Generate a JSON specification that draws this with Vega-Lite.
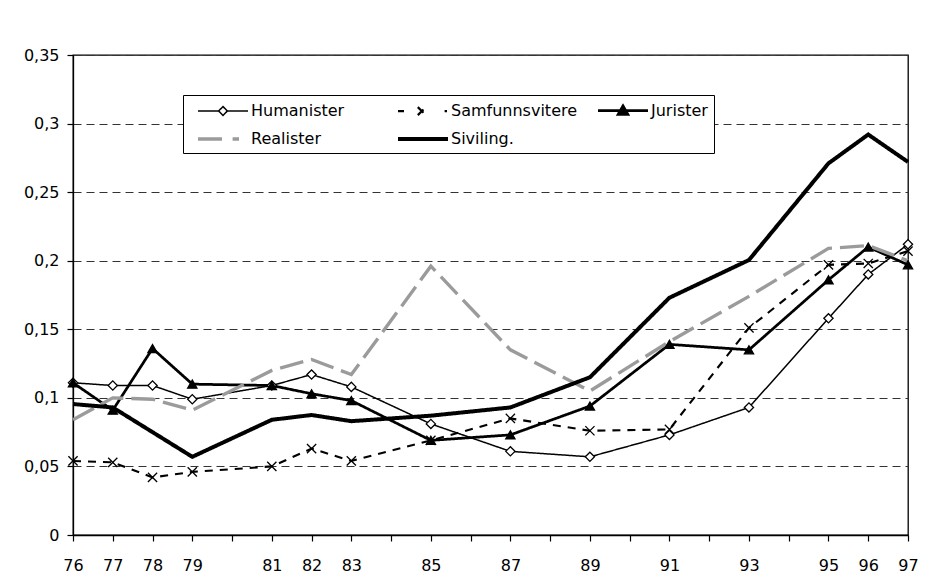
{
  "$schema": "https://vega.github.io/schema/vega-lite/v6.json",
  "width": 835,
  "height": 480,
  "autosize": {"type": "none"},
  "padding": {"left": 73, "top": 55, "right": 25, "bottom": 49},
  "background": "white",
  "data": {
    "values": [
      {"year": 76, "series": "Humanister", "value": 0.111},
      {"year": 77, "series": "Humanister", "value": 0.109},
      {"year": 78, "series": "Humanister", "value": 0.109},
      {"year": 79, "series": "Humanister", "value": 0.099},
      {"year": 81, "series": "Humanister", "value": 0.109},
      {"year": 82, "series": "Humanister", "value": 0.117},
      {"year": 83, "series": "Humanister", "value": 0.108},
      {"year": 85, "series": "Humanister", "value": 0.081},
      {"year": 87, "series": "Humanister", "value": 0.061},
      {"year": 89, "series": "Humanister", "value": 0.057},
      {"year": 91, "series": "Humanister", "value": 0.073},
      {"year": 93, "series": "Humanister", "value": 0.093},
      {"year": 95, "series": "Humanister", "value": 0.158},
      {"year": 96, "series": "Humanister", "value": 0.190},
      {"year": 97, "series": "Humanister", "value": 0.212},
      {"year": 76, "series": "Samfunnsvitere", "value": 0.054},
      {"year": 77, "series": "Samfunnsvitere", "value": 0.053},
      {"year": 78, "series": "Samfunnsvitere", "value": 0.042},
      {"year": 79, "series": "Samfunnsvitere", "value": 0.046},
      {"year": 81, "series": "Samfunnsvitere", "value": 0.050},
      {"year": 82, "series": "Samfunnsvitere", "value": 0.063},
      {"year": 83, "series": "Samfunnsvitere", "value": 0.054},
      {"year": 85, "series": "Samfunnsvitere", "value": 0.069},
      {"year": 87, "series": "Samfunnsvitere", "value": 0.085},
      {"year": 89, "series": "Samfunnsvitere", "value": 0.076},
      {"year": 91, "series": "Samfunnsvitere", "value": 0.077},
      {"year": 93, "series": "Samfunnsvitere", "value": 0.151},
      {"year": 95, "series": "Samfunnsvitere", "value": 0.197},
      {"year": 96, "series": "Samfunnsvitere", "value": 0.198},
      {"year": 97, "series": "Samfunnsvitere", "value": 0.207},
      {"year": 76, "series": "Jurister", "value": 0.111},
      {"year": 77, "series": "Jurister", "value": 0.091},
      {"year": 78, "series": "Jurister", "value": 0.136},
      {"year": 79, "series": "Jurister", "value": 0.110},
      {"year": 81, "series": "Jurister", "value": 0.109},
      {"year": 82, "series": "Jurister", "value": 0.103},
      {"year": 83, "series": "Jurister", "value": 0.098},
      {"year": 85, "series": "Jurister", "value": 0.069},
      {"year": 87, "series": "Jurister", "value": 0.073},
      {"year": 89, "series": "Jurister", "value": 0.094},
      {"year": 91, "series": "Jurister", "value": 0.139},
      {"year": 93, "series": "Jurister", "value": 0.135},
      {"year": 95, "series": "Jurister", "value": 0.186},
      {"year": 96, "series": "Jurister", "value": 0.210},
      {"year": 97, "series": "Jurister", "value": 0.197},
      {"year": 76, "series": "Realister", "value": 0.084},
      {"year": 77, "series": "Realister", "value": 0.100},
      {"year": 78, "series": "Realister", "value": 0.099},
      {"year": 79, "series": "Realister", "value": 0.091},
      {"year": 81, "series": "Realister", "value": 0.120},
      {"year": 82, "series": "Realister", "value": 0.128},
      {"year": 83, "series": "Realister", "value": 0.117},
      {"year": 85, "series": "Realister", "value": 0.196},
      {"year": 87, "series": "Realister", "value": 0.135},
      {"year": 89, "series": "Realister", "value": 0.105},
      {"year": 91, "series": "Realister", "value": 0.141},
      {"year": 93, "series": "Realister", "value": 0.174},
      {"year": 95, "series": "Realister", "value": 0.209},
      {"year": 96, "series": "Realister", "value": 0.211},
      {"year": 97, "series": "Realister", "value": 0.200},
      {"year": 76, "series": "Siviling.", "value": 0.0955},
      {"year": 77, "series": "Siviling.", "value": 0.093},
      {"year": 78, "series": "Siviling.", "value": 0.075},
      {"year": 79, "series": "Siviling.", "value": 0.057},
      {"year": 81, "series": "Siviling.", "value": 0.084},
      {"year": 82, "series": "Siviling.", "value": 0.0875},
      {"year": 83, "series": "Siviling.", "value": 0.083},
      {"year": 85, "series": "Siviling.", "value": 0.087},
      {"year": 87, "series": "Siviling.", "value": 0.093},
      {"year": 89, "series": "Siviling.", "value": 0.115},
      {"year": 91, "series": "Siviling.", "value": 0.173},
      {"year": 93, "series": "Siviling.", "value": 0.2005},
      {"year": 95, "series": "Siviling.", "value": 0.271},
      {"year": 96, "series": "Siviling.", "value": 0.292},
      {"year": 97, "series": "Siviling.", "value": 0.272}
    ]
  },
  "layer": [
    {
      "mark": {"type": "line", "strokeCap": "butt", "strokeJoin": "miter"},
      "encoding": {
        "x": {
          "field": "year", "type": "quantitative",
          "scale": {"domain": [76, 97], "nice": false, "zero": false},
          "axis": {
            "title": null,
            "values": [76, 77, 78, 79, 80, 81, 82, 83, 84, 85, 86, 87, 88, 89, 90, 91, 92, 93, 94, 95, 96, 97],
            "tickCount": 40,
            "format": "d",
            "labelExpr": "(datum.value == 80 || datum.value == 84 || datum.value == 86 || datum.value == 88 || datum.value == 90 || datum.value == 92 || datum.value == 94) ? '' : datum.label",
            "grid": false,
            "tickSize": 6, "tickColor": "black", "tickWidth": 1.2,
            "domainColor": "black", "domainWidth": 1.3,
            "labelFont": "DejaVu Sans", "labelFontSize": 16, "labelColor": "black",
            "labelPadding": 16, "labelFlush": false, "labelOverlap": false, "labelSeparation": 0, "labelBound": false
          }
        },
        "y": {
          "field": "value", "type": "quantitative",
          "scale": {"domain": [0, 0.35], "nice": false, "zero": true},
          "axis": {
            "title": null,
            "values": [0, 0.05, 0.1, 0.15, 0.2, 0.25, 0.3, 0.35],
            "tickCount": 20,
            "labelExpr": "replace(format(datum.value, '.2~f'), '.', ',')",
            "grid": true, "gridColor": "#333333", "gridDash": [8, 5], "gridWidth": 1,
            "tickSize": 6, "tickColor": "black", "tickWidth": 1.2,
            "domainColor": "black", "domainWidth": 1.3,
            "labelFont": "DejaVu Sans", "labelFontSize": 16, "labelColor": "black",
            "labelPadding": 8, "labelFlush": false, "labelOverlap": false
          }
        },
        "color": {
          "field": "series", "type": "nominal",
          "scale": {
            "domain": ["Humanister", "Samfunnsvitere", "Jurister", "Realister", "Siviling."],
            "range": ["black", "black", "black", "#9b9b9b", "black"]
          },
          "legend": {
            "orient": "none", "legendX": 110, "legendY": 40,
            "direction": "horizontal", "columns": 3, "title": null,
            "gridAlign": "all", "columnPadding": 11, "rowPadding": 9, "padding": 6,
            "strokeColor": "black", "fillColor": "white",
            "labelFont": "DejaVu Sans", "labelFontSize": 16, "labelColor": "black",
            "labelOffset": 42, "symbolSize": 256, "symbolStrokeWidth": 1.5, "labelLimit": 0,
            "encode": {
              "symbols": {
                "update": {
                  "shape": {"signal": "datum.value === 'Humanister' ? 'M-0.125,0H2.45M2.45,0L3,-0.55L3.55,0L3,0.55ZM3.55,0H6.125' : datum.value === 'Samfunnsvitere' ? 'M-0.125,0H0.625M2.35,-0.5L3.35,0.5M2.35,0.5L3.35,-0.5M5.7,0H6.0' : datum.value === 'Jurister' ? 'M-0.125,0H6.125M3,-0.6L3.6,0.45L2.4,0.45Z' : datum.value === 'Realister' ? 'M-0.125,0H3.1M4.2,0H5.0' : 'M-0.125,0H6.125'"},
                  "fill": {"signal": "datum.value === 'Humanister' ? 'white' : datum.value === 'Jurister' ? 'black' : 'transparent'"},
                  "stroke": {"signal": "datum.value === 'Realister' ? '#9b9b9b' : 'black'"},
                  "strokeWidth": {"signal": "datum.value === 'Humanister' ? 1.5 : datum.value === 'Jurister' ? 2 : datum.value === 'Samfunnsvitere' ? 2.4 : datum.value === 'Siviling.' ? 3.5 : 3"},
                  "strokeDash": {"value": [1, 0]},
                  "opacity": {"value": 1}
                }
              }
            }
          }
        },
        "strokeDash": {
          "field": "series", "type": "nominal",
          "scale": {
            "domain": ["Humanister", "Samfunnsvitere", "Jurister", "Realister", "Siviling."],
            "range": [[1, 0], [8, 7], [1, 0], [24, 8], [1, 0]]
          },
          "legend": null
        },
        "strokeWidth": {
          "field": "series", "type": "nominal",
          "scale": {
            "domain": ["Humanister", "Samfunnsvitere", "Jurister", "Realister", "Siviling."],
            "range": [1.5, 4, 2, 3, 3.5]
          },
          "legend": null
        },
        "order": {"field": "year", "type": "quantitative"}
      }
    },
    {
      "transform": [{"filter": {"field": "series", "oneOf": ["Humanister", "Samfunnsvitere", "Jurister"]}}],
      "mark": {"type": "point", "filled": true, "stroke": "black", "strokeWidth": 1.3, "size": 85, "opacity": 1},
      "encoding": {
        "x": {"field": "year", "type": "quantitative"},
        "y": {"field": "value", "type": "quantitative"},
        "shape": {
          "field": "series", "type": "nominal",
          "scale": {
            "domain": ["Humanister", "Samfunnsvitere", "Jurister"],
            "range": ["diamond", "M-1,-1L1,1M-1,1L1,-1", "triangle-up"]
          },
          "legend": null
        },
        "fill": {
          "field": "series", "type": "nominal",
          "scale": {
            "domain": ["Humanister", "Samfunnsvitere", "Jurister"],
            "range": ["white", "transparent", "black"]
          },
          "legend": null
        }
      }
    }
  ],
  "config": {
    "view": {"stroke": "black", "strokeWidth": 1.3},
    "font": "DejaVu Sans"
  }
}
